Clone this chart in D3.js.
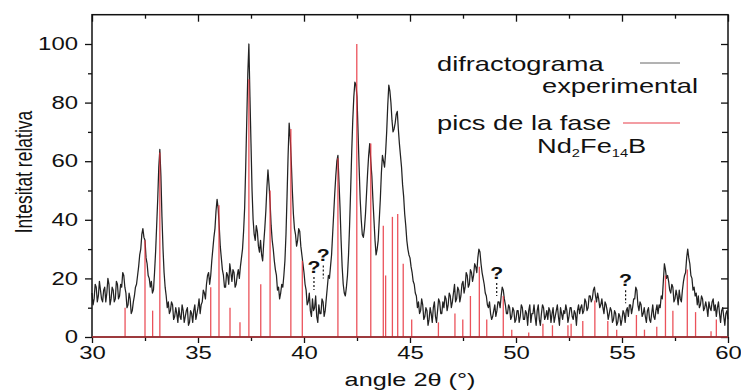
<!DOCTYPE html>
<html>
<head>
<meta charset="utf-8">
<script src="https://cdn.jsdelivr.net/npm/d3@7"></script>
<style>
  body { margin: 0; background: #fff; }
  svg { display: block; }
  text { font-family: "Liberation Sans", Arial, Helvetica, sans-serif; fill: #111; }
</style>
</head>
<body>
<svg id="chart" width="741" height="390"></svg>
<script>
// Experimental scan: 2θ from 30° to 60° in 0.05° steps, relative intensity
const scanStart = 30;
const scanStep = 0.05;
const expIntensity = [
  15, 11, 13, 18, 17, 12, 14, 19, 16, 13, 12, 16, 17, 12, 15, 20, 18, 11, 13, 17,   // 30
  16, 12, 13, 19, 18, 13, 14, 18, 17, 22, 21, 17, 15, 10, 11, 15, 13, 8, 9, 12,     // 31
  14, 17, 18, 21, 24, 28, 30, 35, 37, 34, 33, 27, 25, 21, 20, 17, 19, 15, 16, 22,   // 32
  29, 38, 47, 58, 64, 55, 41, 30, 22, 17, 14, 10, 12, 8, 9, 12, 11, 6, 7, 10,       // 33
  8, 5, 10, 7, 6, 11, 9, 5, 7, 9, 10, 4, 5, 9, 8, 5, 9, 11, 6, 8,                   // 34
  10, 13, 8, 11, 12, 16, 15, 13, 18, 21, 22, 18, 21, 26, 30, 34, 37, 43, 47, 44,    // 35
  38, 31, 27, 23, 21, 17, 17, 22, 21, 18, 25, 22, 19, 23, 22, 17, 18, 21, 23, 20,   // 36
  24, 27, 30, 36, 44, 58, 74, 90, 100, 82, 66, 50, 40, 35, 33, 38, 36, 31, 29, 33,  // 37
  28, 26, 32, 37, 43, 51, 57, 52, 46, 38, 33, 30, 26, 23, 21, 16, 17, 13, 15, 18,   // 38
  17, 21, 26, 35, 48, 62, 73, 68, 60, 50, 42, 37, 35, 31, 33, 37, 36, 31, 28, 25,   // 39
  22, 18, 16, 11, 12, 15, 9, 7, 13, 9, 10, 14, 7, 5, 11, 8, 8, 13, 12, 7,           // 40
  9, 13, 17, 21, 20, 24, 28, 35, 42, 49, 55, 60, 62, 53, 44, 33, 24, 18, 15, 14,    // 41
  17, 21, 28, 38, 50, 63, 74, 82, 87, 86, 82, 70, 58, 47, 40, 35, 34, 37, 42, 49,   // 42
  56, 62, 66, 60, 55, 47, 40, 33, 28, 30, 33, 40, 47, 56, 62, 60, 58, 63, 70, 79,   // 43
  86, 84, 80, 74, 70, 71, 73, 76, 77, 71, 66, 62, 58, 52, 48, 42, 38, 33, 30, 28,   // 44
  27, 24, 22, 19, 18, 15, 14, 10, 12, 8, 9, 13, 11, 6, 7, 10, 9, 4, 6, 10,          // 45
  8, 5, 10, 12, 7, 5, 9, 13, 12, 8, 8, 12, 10, 14, 13, 9, 11, 15, 14, 10,           // 46
  12, 15, 18, 12, 13, 17, 16, 12, 14, 18, 19, 15, 17, 22, 21, 17, 18, 23, 22, 19,   // 47
  21, 25, 24, 22, 27, 30, 29, 25, 22, 20, 18, 15, 14, 11, 10, 12, 8, 6, 7, 9,       // 48
  11, 7, 9, 12, 12, 10, 14, 17, 16, 13, 11, 8, 8, 11, 10, 6, 7, 10, 9, 5,           // 49
  6, 9, 9, 5, 7, 11, 10, 6, 6, 9, 8, 4, 9, 11, 5, 8, 8, 11, 7, 4,                   // 50
  9, 11, 6, 4, 8, 11, 10, 6, 7, 9, 6, 10, 9, 5, 8, 10, 5, 7, 9, 11,                 // 51
  7, 4, 10, 8, 6, 9, 8, 11, 9, 5, 7, 10, 10, 7, 6, 9, 8, 4, 9, 11,                  // 52
  8, 10, 11, 8, 9, 13, 12, 9, 10, 14, 14, 12, 13, 16, 17, 14, 12, 15, 13, 10,       // 53
  11, 13, 10, 8, 12, 11, 9, 6, 8, 10, 9, 5, 6, 9, 8, 4, 5, 8, 7, 4,                 // 54
  6, 9, 8, 5, 9, 10, 7, 11, 11, 8, 10, 13, 13, 17, 16, 11, 9, 12, 11, 7,            // 55
  8, 10, 7, 5, 9, 10, 6, 5, 8, 11, 7, 6, 9, 11, 8, 11, 10, 14, 13, 19,              // 56
  25, 23, 20, 21, 19, 16, 15, 18, 17, 12, 13, 16, 14, 11, 16, 13, 12, 16, 19, 21,   // 57
  22, 27, 30, 27, 25, 21, 20, 16, 17, 14, 15, 11, 14, 10, 11, 14, 13, 9, 10, 12,    // 58
  10, 7, 12, 10, 9, 12, 13, 9, 11, 7, 10, 12, 8, 5, 9, 10, 7, 4, 8, 9,              // 59
  6                                                                                 // 60
];

// Reference reflections of the Nd2Fe14B phase
const peakAngles = [
  31.56, 32.5, 32.86, 33.2, 35.6, 35.99, 36.51, 36.98, 37.4, 37.96,
  38.4, 39.38, 39.92, 41.6, 42.49, 43.15, 43.74, 43.85, 44.17, 44.42,
  44.68, 45.08, 46.34, 47.12, 47.49, 47.85, 48.27, 48.62, 49.4, 49.8,
  50.6, 51.27, 51.72, 52.45, 52.6, 53.15, 53.72, 54.33, 54.75, 55.68,
  56.06, 56.64, 57.05, 57.4, 58.08, 58.47, 59.2, 59.45
];
const peakIntensities = [
  10, 33, 9, 63, 17, 45, 10, 5, 88, 18,
  50, 71, 26, 61, 100, 66, 38, 21, 41, 42,
  25, 6, 5, 8, 6, 14, 24, 6, 14, 2.5,
  1.5, 4.5, 4, 4, 4.5, 5.5, 12.5, 5.5, 2.5, 7.5,
  2.5, 3.5, 21, 9, 23, 8.5, 2, 6
];

// Unidentified reflections
const unknownAngles = [40.47, 40.91, 49.09, 55.17];
const unknownTips = [16, 20, 14, 11.5];

const xTicks = [30, 35, 40, 45, 50, 55, 60];
const xMinorTicks = [32.5, 37.5, 42.5, 47.5, 52.5, 57.5];
const yTicks = [0, 20, 40, 60, 80, 100];
const yMinorTicks = [10, 30, 50, 70, 90];

const SX = 1.33; // horizontal stretch of the lettering

const svg = d3.select("#chart");
const x = d3.scaleLinear().domain([30, 60]).range([92, 728]);
const y = d3.scaleLinear().domain([0, 100]).range([337, 44]);
const yMax = 110;

// experimental diffractogram
const line = d3.line()
  .x((d, i) => x(scanStart + i * scanStep))
  .y(d => y(d));
svg.append("path")
  .datum(expIntensity)
  .attr("d", line)
  .attr("fill", "none")
  .attr("stroke", "#222")
  .attr("stroke-width", 1.25)
  .attr("stroke-linejoin", "round");

// phase reflections as sticks
svg.append("g").selectAll("line")
  .data(peakAngles)
  .join("line")
  .attr("x1", d => x(d)).attr("x2", d => x(d))
  .attr("y1", y(0))
  .attr("y2", (d, i) => y(peakIntensities[i]))
  .attr("stroke", "#e8343e")
  .attr("stroke-opacity", 0.85)
  .attr("stroke-width", 1.3);

// axes
function styleTicks(g) {
  g.select(".domain").remove();
  g.selectAll(".tick line").attr("stroke", "#111").attr("stroke-width", 1.3);
}

const gBottom = svg.append("g")
  .attr("transform", `translate(0,${y(0)})`)
  .call(d3.axisBottom(x).tickValues(xTicks).tickSize(6).tickPadding(3).tickFormat(d3.format("d")))
  .call(styleTicks);
gBottom.selectAll("text")
  .attr("font-size", 18)
  .attr("transform", `scale(${SX},1)`);

svg.append("g")
  .attr("transform", `translate(0,${y(0)})`)
  .call(d3.axisBottom(x).tickValues(xMinorTicks).tickSize(4).tickFormat(""))
  .call(styleTicks);

const gLeft = svg.append("g")
  .attr("transform", `translate(${x(30)},0)`)
  .call(d3.axisLeft(y).tickValues(yTicks).tickSize(7).tickFormat(d3.format("d")))
  .call(styleTicks);
gLeft.selectAll("text")
  .attr("font-size", 18)
  .attr("x", -14 / SX)
  .attr("transform", `scale(${SX},1)`);

svg.append("g")
  .attr("transform", `translate(${x(30)},0)`)
  .call(d3.axisLeft(y).tickValues(yMinorTicks).tickSize(4).tickFormat(""))
  .call(styleTicks);

svg.append("g")
  .attr("transform", `translate(0,${y(yMax)})`)
  .call(d3.axisTop(x).tickValues(xTicks).tickSize(-7).tickFormat(""))
  .call(styleTicks);
svg.append("g")
  .attr("transform", `translate(0,${y(yMax)})`)
  .call(d3.axisTop(x).tickValues(xMinorTicks).tickSize(-4).tickFormat(""))
  .call(styleTicks);

svg.append("g")
  .attr("transform", `translate(${x(60)},0)`)
  .call(d3.axisRight(y).tickValues(yTicks).tickSize(-7).tickFormat(""))
  .call(styleTicks);
svg.append("g")
  .attr("transform", `translate(${x(60)},0)`)
  .call(d3.axisRight(y).tickValues(yMinorTicks).tickSize(-6).tickFormat(""))
  .call(styleTicks);

// plot frame
svg.append("rect")
  .attr("x", x(30)).attr("y", y(yMax))
  .attr("width", x(60) - x(30)).attr("height", y(0) - y(yMax))
  .attr("fill", "none")
  .attr("stroke", "#111")
  .attr("stroke-width", 1.5);

// red zero line under the reflections
svg.append("line")
  .attr("x1", x(30)).attr("x2", x(60))
  .attr("y1", y(0)).attr("y2", y(0))
  .attr("stroke", "#b8343a")
  .attr("stroke-width", 1.6);

// unidentified reflections
const unk = svg.append("g");
unknownAngles.forEach((a, i) => {
  const px = x(a), py = y(unknownTips[i]);
  unk.append("line")
    .attr("x1", px).attr("x2", px)
    .attr("y1", py - 13).attr("y2", py)
    .attr("stroke", "#111")
    .attr("stroke-width", 1.2)
    .attr("stroke-dasharray", "2,2");
  unk.append("g")
    .attr("transform", `translate(${px},${py - 17}) scale(${SX},1)`)
    .append("text")
    .attr("text-anchor", "middle")
    .attr("font-size", 16)
    .attr("font-weight", "bold")
    .text("?");
});

// axis titles
svg.append("g")
  .attr("transform", `translate(410,386) scale(${SX},1)`)
  .append("text")
  .attr("text-anchor", "middle")
  .attr("font-size", 19)
  .text("angle 2\u03b8 (\u00b0)");

svg.append("g")
  .attr("transform", `translate(24,172) scale(${SX},1)`)
  .append("text")
  .attr("transform", "rotate(-90)")
  .attr("text-anchor", "middle")
  .attr("dy", "0.35em")
  .attr("font-size", 17.5)
  .text("Intesitat relativa");

// legend
const legend = svg.append("g");
function legendText(tx, ty, anchor) {
  return legend.append("g")
    .attr("transform", `translate(${tx},${ty}) scale(${SX},1)`)
    .append("text")
    .attr("text-anchor", anchor)
    .attr("font-size", 20.5);
}
legendText(437, 71, "start").text("difractograma");
legendText(698, 93, "end").text("experimental");
legend.append("line")
  .attr("x1", 640).attr("x2", 680).attr("y1", 63).attr("y2", 63)
  .attr("stroke", "#666").attr("stroke-width", 1);

legendText(437, 130, "start").text("pics de la fase");
legend.append("line")
  .attr("x1", 623).attr("x2", 680).attr("y1", 123).attr("y2", 123)
  .attr("stroke", "#ef7d84").attr("stroke-width", 1.6);

const formula = legendText(537, 153, "start");
formula.append("tspan").text("Nd");
formula.append("tspan").attr("font-size", 11).attr("dy", 4).text("2");
formula.append("tspan").attr("dy", -4).text("Fe");
formula.append("tspan").attr("font-size", 11).attr("dy", 4).text("14");
formula.append("tspan").attr("dy", -4).text("B");
</script>
</body>
</html>
